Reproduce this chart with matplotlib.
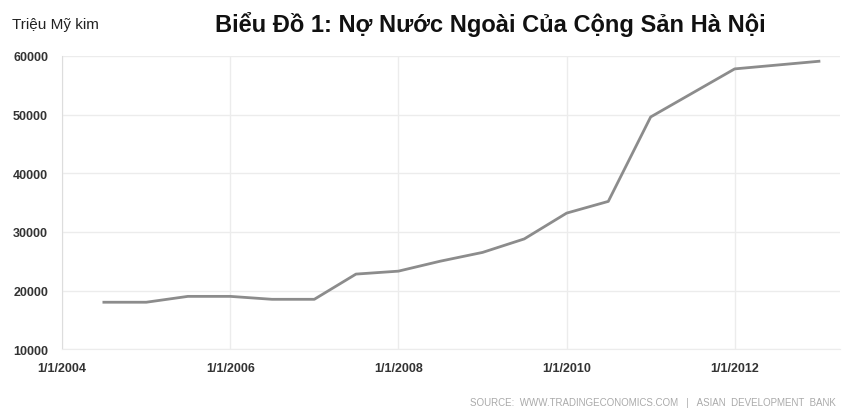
import matplotlib.pyplot as plt
import numpy as np

dates = ["2004-07-01", "2005-01-01", "2005-07-01", "2006-01-01", "2006-07-01",
         "2007-01-01", "2007-07-01", "2008-01-01", "2008-07-01", "2009-01-01",
         "2009-07-01", "2010-01-01", "2010-07-01", "2011-01-01", "2012-01-01",
         "2013-01-01"]
debt = [18000, 18000, 19000, 19000, 18500, 18500, 22800, 23300, 25000, 26500,
        28800, 33200, 35200, 49600, 57800, 59100]
xticks = ["2004-01-01", "2006-01-01", "2008-01-01", "2010-01-01", "2012-01-01"]
xticklabels = ["1/1/2004", "1/1/2006", "1/1/2008", "1/1/2010", "1/1/2012"]
yticks = [10000, 20000, 30000, 40000, 50000, 60000]

plt.rcParams['font.family'] = ['Liberation Sans', 'DejaVu Sans']

x = [np.datetime64(d) for d in dates]

fig = plt.figure(figsize=(8.49, 4.10), dpi=100)
ax = fig.add_axes([0.073, 0.146, 0.916, 0.715])
ax.plot(x, debt, color="#8c8c8c", lw=2)

ax.set_ylim(10000, 60000)
ax.set_xlim(np.datetime64("2004-01-01"), np.datetime64("2013-04-01"))
ax.set_yticks(yticks)
ax.set_xticks([np.datetime64(d) for d in xticks])
ax.set_xticklabels(xticklabels)
ax.tick_params(axis="both", length=0, labelsize=9, labelcolor="#333333")
for lab in ax.get_xticklabels() + ax.get_yticklabels():
    lab.set_fontweight("bold")
ax.tick_params(axis="y", pad=10)
ax.tick_params(axis="x", pad=9)

ax.grid(True, color="#ececec", lw=1)
for s in ["top", "right"]:
    ax.spines[s].set_visible(False)
ax.spines["left"].set_color("#dddddd")
ax.spines["bottom"].set_color("#ececec")

fig.text(0.014, 0.94, "Triệu Mỹ kim", fontsize=11, color="#222222", va="center")
fig.text(0.578, 0.94, "Biểu Đồ 1: Nợ Nước Ngoài Của Cộng Sản Hà Nội", fontsize=17,
         fontweight="bold", color="#111111", ha="center", va="center")
fig.text(0.985, 0.006, "SOURCE:  WWW.TRADINGECONOMICS.COM   |   ASIAN  DEVELOPMENT  BANK",
         fontsize=7, color="#aaaaaa", ha="right", va="bottom")

fig.savefig("out.png", dpi=100)
